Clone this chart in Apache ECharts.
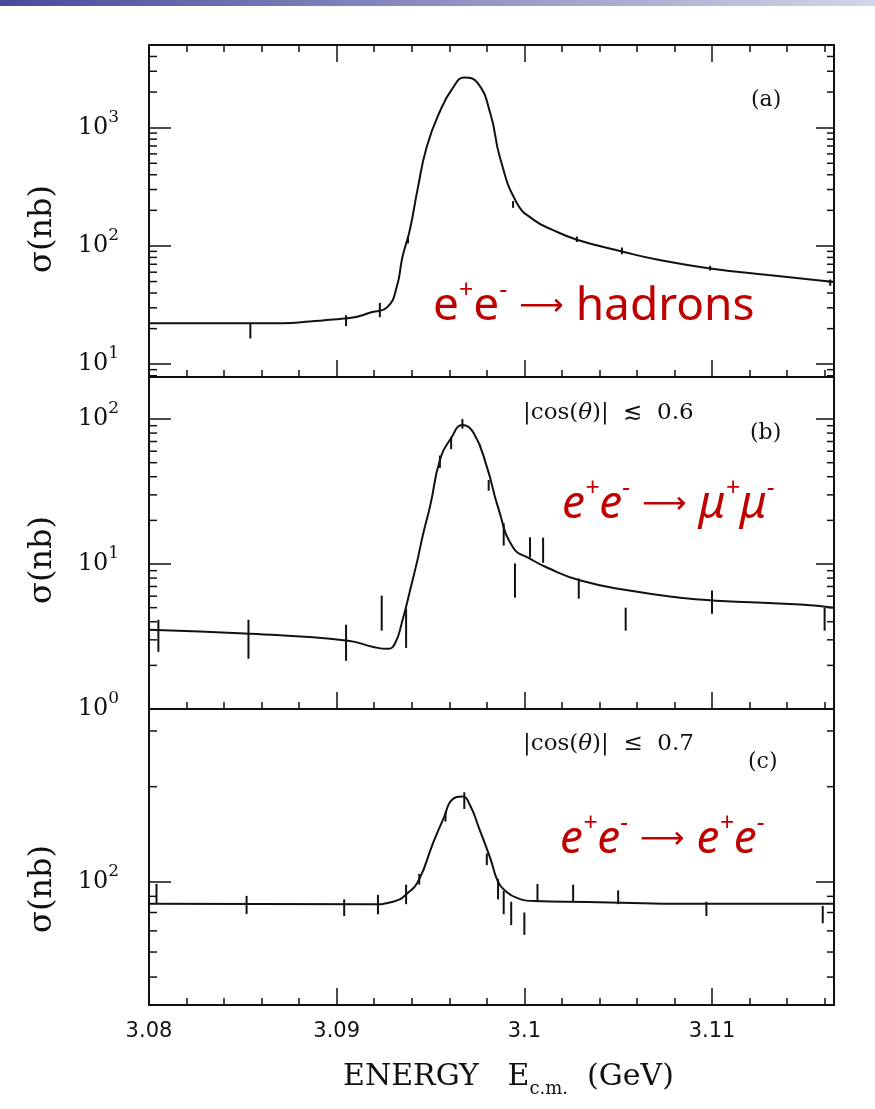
<!DOCTYPE html>
<html>
<head>
<meta charset="utf-8">
<title>J/psi</title>
<style>
	html, body { margin: 0; padding: 0; background: #fff; }
	#main { width: 875px; height: 1109px; }
</style>
<script src="https://cdn.jsdelivr.net/npm/echarts/dist/echarts.min.js"></script>
</head>
<body>
<div id="main"></div>
<script type="text/javascript">
	// 横轴：能量 (GeV)
	var xMin = 3.08, xMax = 3.1165;
	var xTickLabels = ['3.08', '3.09', '3.1', '3.11'];

	// (a) e+e- -> hadrons
	var energyA = [3.0800, 3.0854, 3.0906, 3.0919, 3.0927, 3.0932, 3.0935, 3.0939, 3.0943, 3.0948, 3.0955, 3.0962,
		3.0968, 3.0975, 3.0982, 3.0987, 3.0996, 3.1005, 3.1015, 3.1028, 3.1053, 3.1072, 3.1099, 3.1130, 3.1165];
	var sigmaA = [22.2, 22.2, 24.5, 27.6, 30.4, 45, 80, 137, 295, 690, 1370, 2180,
		2650, 2400, 1300, 560, 231, 166, 137, 113, 89, 76, 64.6, 56.7, 49.5];
	var errA = [[3.0854, 16.5, 22.5], [3.0905, 21, 26], [3.0923, 25, 33], [3.0938, 105, 120], [3.0994, 210, 240],
		[3.1028, 108, 120], [3.1052, 85, 97], [3.1099, 62, 68], [3.1163, 46, 52]];

	// (b) e+e- -> mu+mu-
	var energyB = [3.0800, 3.0854, 3.0906, 3.0919, 3.0927, 3.0931, 3.0935, 3.0939, 3.0943, 3.0946, 3.0950, 3.0955,
		3.0961, 3.0967, 3.0973, 3.0980, 3.0986, 3.0994, 3.1003, 3.1012, 3.1030, 3.1056, 3.1083, 3.1102, 3.1147, 3.1165];
	var sigmaB = [3.52, 3.30, 2.96, 2.69, 2.60, 2.82, 4.06, 6.5, 10.6, 16.0, 25.8, 52,
		74, 90.8, 80, 47, 24.6, 13.0, 10.9, 9.46, 7.69, 6.56, 5.86, 5.59, 5.25, 5.0];
	var errB = [[3.0805, 2.48, 4.13], [3.0853, 2.22, 4.13], [3.0905, 2.15, 3.81], [3.0924, 3.47, 6.05],
		[3.0937, 2.64, 4.92], [3.0955, 46, 56], [3.0961, 62, 75], [3.0967, 86, 100], [3.0981, 32, 38],
		[3.0989, 13.4, 19.1], [3.0995, 5.86, 10.1], [3.1003, 11.1, 15.3], [3.1010, 10.2, 15.2],
		[3.1029, 5.77, 7.94], [3.1054, 3.47, 5.0], [3.1100, 4.54, 6.56], [3.1160, 3.47, 5.0]];

	// (c) e+e- -> e+e-
	var energyC = [3.0800, 3.0919, 3.0930, 3.0938, 3.0944, 3.0951, 3.0957, 3.0962, 3.0967, 3.0971, 3.0976,
		3.0982, 3.0986, 3.0990, 3.0996, 3.1005, 3.1034, 3.1091, 3.1165];
	var sigmaC = [85.2, 85, 86.5, 92.3, 102, 131, 159, 183, 186, 175, 147,
		118, 100, 93.6, 89, 87, 86.4, 85.2, 85.2];
	var errC = [[3.0804, 85.2, 98.5], [3.0852, 79.2, 90.3], [3.0904, 78, 88], [3.0922, 79, 91], [3.0937, 85, 98],
		[3.0944, 98, 106], [3.0958, 155, 166], [3.0968, 170, 192], [3.0980, 113, 123], [3.0986, 88, 102],
		[3.0989, 79, 93.6], [3.0993, 73, 86.5], [3.1000, 68, 80], [3.1007, 86.4, 98.5], [3.1026, 86.4, 98],
		[3.1050, 85, 94], [3.1097, 78, 86.5], [3.1159, 74, 84]];

	// 纵轴 (对数) 标签与小刻度
	var yLabelsA = [10, 100, 1000];
	var yLabelsB = [1, 10, 100];
	var yLabelsC = [100];
	var minorA = [8, 9, 20, 30, 40, 50, 60, 70, 80, 90, 200, 300, 400, 500, 600, 700, 800, 900, 2000, 3000, 4000];
	var minorB = [2, 3, 4, 5, 6, 7, 8, 9, 20, 30, 40, 50, 60, 70, 80, 90];
	var minorC = [50, 60, 70, 80, 90, 200, 300];

	var ink = '#111';
	var powRich = {
		b: { fontFamily: 'DejaVu Serif', fontSize: 24, color: ink, lineHeight: 38 },
		s: { fontFamily: 'DejaVu Serif', fontSize: 17, color: ink, lineHeight: 16, verticalAlign: 'top' }
	};

	function powerLabel(list) {
		return function (v) {
			for (var i = 0; i < list.length; i++) {
				if (Math.abs(v - list[i]) / list[i] < 1e-6) {
					return '{b|10}{s|' + Math.round(Math.log10(list[i])) + '}';
				}
			}
			return '';
		};
	}

	function xLabel(v) {
		for (var i = 0; i < xTickLabels.length; i++) {
			if (Math.abs(parseFloat(xTickLabels[i]) - v) < 1e-7) return xTickLabels[i];
		}
		return '';
	}

	// x 轴：主刻度 0.01，小刻度 0.002
	function xAxisOf(grid, pos, step, len, withLabel, withLine) {
		return {
			type: 'value', gridIndex: grid, position: pos, min: xMin, max: xMax, interval: step,
			axisLine: { show: withLine, onZero: false, lineStyle: { color: ink, width: 2 } },
			axisTick: { show: len > 0, inside: true, length: len, lineStyle: { color: ink, width: 1.5 } },
			axisLabel: { show: withLabel, margin: 16, fontFamily: 'DejaVu Sans', fontSize: 21, color: ink, formatter: xLabel },
			splitLine: { show: false }
		};
	}

	function yAxisOf(grid, pos, min, max, labels) {
		return {
			type: 'log', logBase: 10, gridIndex: grid, position: pos, min: min, max: max,
			axisLine: { show: true, onZero: false, lineStyle: { color: ink, width: 2 } },
			axisTick: { show: true, inside: true, length: pos === 'left' ? 22 : 18, lineStyle: { color: ink, width: 1.5 } },
			axisLabel: { show: !!labels, margin: 30, formatter: labels ? powerLabel(labels) : null, rich: powRich },
			splitLine: { show: false }
		};
	}

	// 误差棒
	function renderErrorBar(params, api) {
		var hi = api.coord([api.value(0), api.value(2)]);
		var lo = api.coord([api.value(0), api.value(1)]);
		return {
			type: 'line',
			shape: { x1: hi[0], y1: hi[1], x2: lo[0], y2: lo[1] },
			style: { stroke: ink, lineWidth: 2 }
		};
	}

	// 对数轴小刻度 (左右两侧)
	function renderMinorTick(params, api) {
		var y = api.coord([xMin, api.value(1)])[1];
		var cs = params.coordSys;
		return {
			type: 'group',
			children: [
				{ type: 'line', shape: { x1: cs.x, y1: y, x2: cs.x + 8, y2: y }, style: { stroke: ink, lineWidth: 1.5 } },
				{ type: 'line', shape: { x1: cs.x + cs.width - 7, y1: y, x2: cs.x + cs.width, y2: y }, style: { stroke: ink, lineWidth: 1.5 } }
			]
		};
	}

	function zip(xs, ys) {
		return xs.map(function (x, i) { return [x, ys[i]]; });
	}

	function panelSeries(xi, yi, energy, sigma, err, minor) {
		return [
			{
				type: 'line', xAxisIndex: xi, yAxisIndex: yi, data: zip(energy, sigma),
				smooth: 0.5, symbol: 'none',
				lineStyle: { color: ink, width: 2 }, silent: true
			},
			{
				type: 'custom', xAxisIndex: xi, yAxisIndex: yi, data: err,
				encode: { x: 0, y: [1, 2] }, renderItem: renderErrorBar, silent: true
			},
			{
				type: 'custom', xAxisIndex: xi, yAxisIndex: yi,
				data: minor.map(function (v) { return [xMin, v]; }),
				renderItem: renderMinorTick, silent: true
			}
		];
	}

	var red = '#c00000';
	var redRich = {
		m: { fill: red, fontFamily: 'Noto Sans', fontSize: 46, lineHeight: 58 },
		p: { fill: red, fontFamily: 'Noto Sans', fontSize: 25, lineHeight: 25, verticalAlign: 'top' },
		mi: { fill: red, fontFamily: 'Noto Sans', fontStyle: 'italic', fontSize: 46, lineHeight: 58 },
		pi: { fill: red, fontFamily: 'Noto Sans', fontStyle: 'italic', fontSize: 25, lineHeight: 25, verticalAlign: 'top' },
		a: { fill: red, fontFamily: 'DejaVu Sans', fontSize: 31, lineHeight: 58, padding: [0, 12, 0, 12] }
	};

	var serif = { fill: ink, fontFamily: 'DejaVu Serif', fontSize: 22 };

	function label(x, y, text, style, extra) {
		var s = { text: text, align: 'left', verticalAlign: 'middle', textAlign: 'left', textVerticalAlign: 'middle' };
		for (var k in style) s[k] = style[k];
		var el = { type: 'text', x: x, y: y, z: 100, style: s };
		for (var j in extra) el[j] = extra[j];
		return el;
	}

	var cosRich = {
		t: { fill: ink, fontFamily: 'DejaVu Serif', fontSize: 23 },
		i: { fill: ink, fontFamily: 'DejaVu Serif', fontStyle: 'italic', fontSize: 23 }
	};
	var sigmaStyle = { fill: ink, fontFamily: 'DejaVu Serif', fontSize: 32, align: 'center', textAlign: 'center' };
	var xNameRich = {
		n: { fill: ink, fontFamily: 'DejaVu Serif', fontSize: 30, lineHeight: 42 },
		sub: { fill: ink, fontFamily: 'DejaVu Serif', fontSize: 18, lineHeight: 20, verticalAlign: 'bottom' }
	};

	var chart = echarts.init(document.getElementById('main'));

	var option = {
		animation: false,
		backgroundColor: '#fff',
		grid: [
			{ left: 149, right: 41, top: 45, height: 332 },
			{ left: 149, right: 41, top: 377, height: 332 },
			{ left: 149, right: 41, top: 709, height: 296 }
		],
		xAxis: [
			xAxisOf(0, 'bottom', 0.01, 17, false, true),
			xAxisOf(0, 'bottom', 0.002, 7, false, false),
			xAxisOf(0, 'top', 0.01, 17, false, true),
			xAxisOf(0, 'top', 0.002, 7, false, false),
			xAxisOf(1, 'bottom', 0.01, 17, false, true),
			xAxisOf(1, 'bottom', 0.002, 7, false, false),
			xAxisOf(2, 'bottom', 0.01, 17, true, true),
			xAxisOf(2, 'bottom', 0.002, 7, false, false)
		],
		yAxis: [
			yAxisOf(0, 'left', 7.8, 5000, yLabelsA),
			yAxisOf(0, 'right', 7.8, 5000, null),
			yAxisOf(1, 'left', 1, 195, yLabelsB),
			yAxisOf(1, 'right', 1, 195, null),
			yAxisOf(2, 'left', 40.8, 352, yLabelsC),
			yAxisOf(2, 'right', 40.8, 352, null)
		],
		series: [].concat(
			panelSeries(0, 0, energyA, sigmaA, errA, minorA),
			panelSeries(4, 2, energyB, sigmaB, errB, minorB),
			panelSeries(6, 4, energyC, sigmaC, errC, minorC)
		),
		graphic: [
			{
				type: 'rect', shape: { x: 0, y: 0, width: 875, height: 6 },
				style: { fill: new echarts.graphic.LinearGradient(0, 0, 1, 0, [
					{ offset: 0, color: '#4a4a9c' }, { offset: 0.5, color: '#8e8ec2' }, { offset: 1, color: '#d4d4ea' }
				]) }
			},
			label(751, 100, '(a)', serif),
			label(750, 433, '(b)', serif),
			label(748, 762, '(c)', serif),
			label(523, 413, '{t||cos(}{i|θ}{t|)|  ≲  0.6}', { rich: cosRich }),
			label(523, 744, '{t||cos(}{i|θ}{t|)|  ≤  0.7}', { rich: cosRich }),
			label(43, 229, 'σ(nb)', sigmaStyle, { rotation: Math.PI / 2 }),
			label(43, 560, 'σ(nb)', sigmaStyle, { rotation: Math.PI / 2 }),
			label(43, 889, 'σ(nb)', sigmaStyle, { rotation: Math.PI / 2 }),
			label(343, 1077, '{n|ENERGY   E}{sub|c.m.}{n|  (GeV)}', { rich: xNameRich }),
			label(433, 307, '{m|e}{p|+}{m|e}{p|-}{a|⟶}{m|hadrons}', { rich: redRich }),
			label(562, 505, '{mi|e}{pi|+}{mi|e}{pi|-}{a|⟶}{mi|μ}{pi|+}{mi|μ}{pi|-}', { rich: redRich }),
			label(560, 840, '{mi|e}{pi|+}{mi|e}{pi|-}{a|⟶}{mi|e}{pi|+}{mi|e}{pi|-}', { rich: redRich })
		]
	};

	chart.setOption(option);
</script>
</body>
</html>
